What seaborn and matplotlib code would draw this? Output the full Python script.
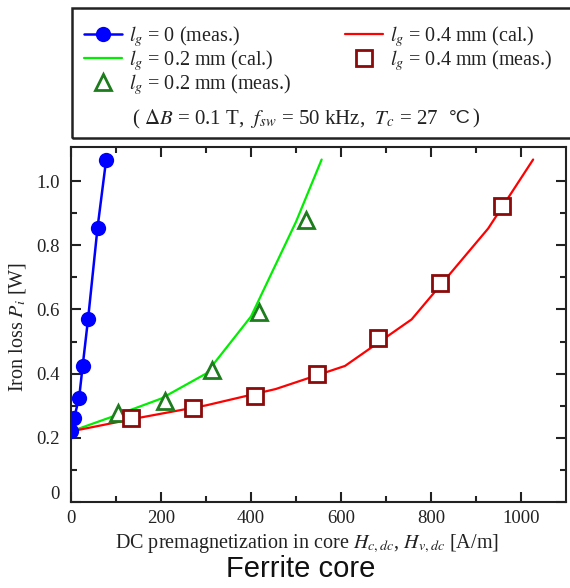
import numpy as np
import matplotlib
matplotlib.use("Agg")
import matplotlib.pyplot as plt
from matplotlib.lines import Line2D
from matplotlib.patches import Rectangle
from matplotlib.transforms import ScaledTranslation
import seaborn as sns

### Data
# lg = 0, measured
h_lg0_meas = [0, 7, 18, 26, 38, 59, 78]
p_lg0_meas = [0.221, 0.263, 0.324, 0.425, 0.571, 0.855, 1.065]

# lg = 0.2 mm, calculated / measured
h_lg02_cal = [0, 100, 200, 300, 400, 500, 557]
p_lg02_cal = [0.22, 0.27, 0.322, 0.40, 0.578, 0.873, 1.067]
h_lg02_meas = [104, 209, 313, 418, 522]
p_lg02_meas = [0.276, 0.316, 0.411, 0.593, 0.88]

# lg = 0.4 mm, calculated / measured
h_lg04_cal = [0, 150, 300, 455, 609, 757, 927, 1027]
p_lg04_cal = [0.22, 0.262, 0.301, 0.352, 0.424, 0.569, 0.852, 1.067]
h_lg04_meas = [133, 272, 409, 546, 683, 820, 958]
p_lg04_meas = [0.263, 0.294, 0.330, 0.398, 0.51, 0.681, 0.922]

x_ticks = [0, 200, 400, 600, 800, 1000]
y_ticks = [0, 0.2, 0.4, 0.6, 0.8, 1.0]
y_ticklabels = ["0", "0.2", "0.4", "0.6", "0.8", "1.0"]

###############################################################################
sns.set_theme(style="ticks")
plt.rcParams["font.family"] = ["Liberation Serif", "DejaVu Serif"]
plt.rcParams["mathtext.fontset"] = "stix"

c_blue = "#0000ff"
c_green = "#00ee00"
c_dkgreen = "#1e7b1e"
c_red = "#ff0000"
c_dkred = "#8b0a0a"
txt = "#222222"
fs = 14.5

fig = plt.figure(figsize=(5.7, 5.88), dpi=100)
ax = fig.add_axes([71 / 570, 86 / 588, 495 / 570, 355 / 588])

sns.lineplot(x=h_lg02_cal, y=p_lg02_cal, color=c_green, lw=1.6, ax=ax, sort=False)
sns.lineplot(x=h_lg04_cal, y=p_lg04_cal, color=c_red, lw=1.6, ax=ax, sort=False)
sns.lineplot(x=h_lg0_meas, y=p_lg0_meas, color=c_blue, lw=1.8, marker="o",
             markersize=11, markeredgewidth=0, ax=ax, sort=False)
ax.plot(h_lg02_meas, p_lg02_meas, ls="", marker="^", ms=12, mfc="white",
        mec=c_dkgreen, mew=2, zorder=4)
ax.plot(h_lg04_meas, p_lg04_meas, ls="", marker="s", ms=11, mfc="white",
        mec=c_dkred, mew=2, zorder=4)

ax.set_xlim(0, 1100)
ax.set_ylim(0, 1.106)
ax.set_xticks(x_ticks)
ax.set_xticks(np.arange(100, 1100, 200), minor=True)
ax.set_yticks(y_ticks)
ax.set_yticklabels(y_ticklabels)
ax.set_yticks(np.arange(0.1, 1.1, 0.2), minor=True)
ax.tick_params(which="both", direction="in", top=True, right=True,
               width=1.5, colors=txt, labelsize=13.5)
ax.tick_params(axis="x", pad=6)
ax.tick_params(axis="y", pad=8)
ax.tick_params(which="major", length=7)
ax.tick_params(which="minor", length=4)
for s in ax.spines.values():
    s.set_linewidth(1.5)
    s.set_color(txt)

# the "0" on the y axis sits a little above its tick in the reference
lab0 = ax.get_yticklabels()[0]
lab0.set_transform(lab0.get_transform() + ScaledTranslation(0, 7 / 72, fig.dpi_scale_trans))

ax.set_xlabel("DC premagnetization in core $H_{c,dc}$, $H_{v,dc}$ [A/m]",
              fontsize=fs, color=txt)
ax.set_ylabel("Iron loss $P_i$ [W]", fontsize=fs, color=txt)
ax.xaxis.set_label_coords(0.477, -0.085)
ax.yaxis.set_label_coords(-0.087, 0.493)

fig.text(301 / 570, 1 - 569 / 588, "Ferrite core", ha="center", va="center",
         fontsize=21, family="Liberation Sans", color="#111111")

### Legend box
fig.patches.append(Rectangle((72 / 570, 450 / 588), 0.9, 130 / 588,
                             transform=fig.transFigure, fill=False,
                             ec=txt, lw=1.8, clip_on=False))
handles = [
    Line2D([], [], color=c_blue, lw=1.8, marker="o", ms=11, mew=0),
    Line2D([], [], color=c_green, lw=1.6),
    Line2D([], [], ls="", marker="^", ms=12, mfc="white", mec=c_dkgreen, mew=2),
    Line2D([], [], color=c_red, lw=1.6),
    Line2D([], [], ls="", marker="s", ms=11, mfc="white", mec=c_dkred, mew=2),
]
labels = [
    "$l_g$ = 0 (meas.)",
    "$l_g$ = 0.2 mm (cal.)",
    "$l_g$ = 0.2 mm (meas.)",
    "$l_g$ = 0.4 mm (cal.)",
    "$l_g$ = 0.4 mm (meas.)",
]
leg = fig.legend(handles, labels, loc="upper left", ncol=2,
                 bbox_to_anchor=(84 / 570, 1 - 24 / 588), frameon=False,
                 fontsize=fs, handlelength=1.9, handletextpad=0.35,
                 labelspacing=-0.05, columnspacing=2.65, borderpad=0,
                 borderaxespad=0)
for t in leg.get_texts():
    t.set_color(txt)

# parameter line, the degree sign is set in a sans face as in the reference
y_par = 1 - 119 / 588
fig.text(438 / 570, y_par,
         "( $\\mathit{\\Delta B}$ = 0.1 T,  $f_{sw}$ = 50 kHz,  $T_c$ = 27",
         ha="right", va="center", fontsize=15, color=txt)
fig.text(449 / 570, y_par, "\u00b0C", ha="left", va="center", fontsize=14,
         family="Liberation Sans", color=txt)
fig.text(472 / 570, y_par, ")", ha="left", va="center", fontsize=15, color=txt)

fig.savefig("out.png", dpi=100)
